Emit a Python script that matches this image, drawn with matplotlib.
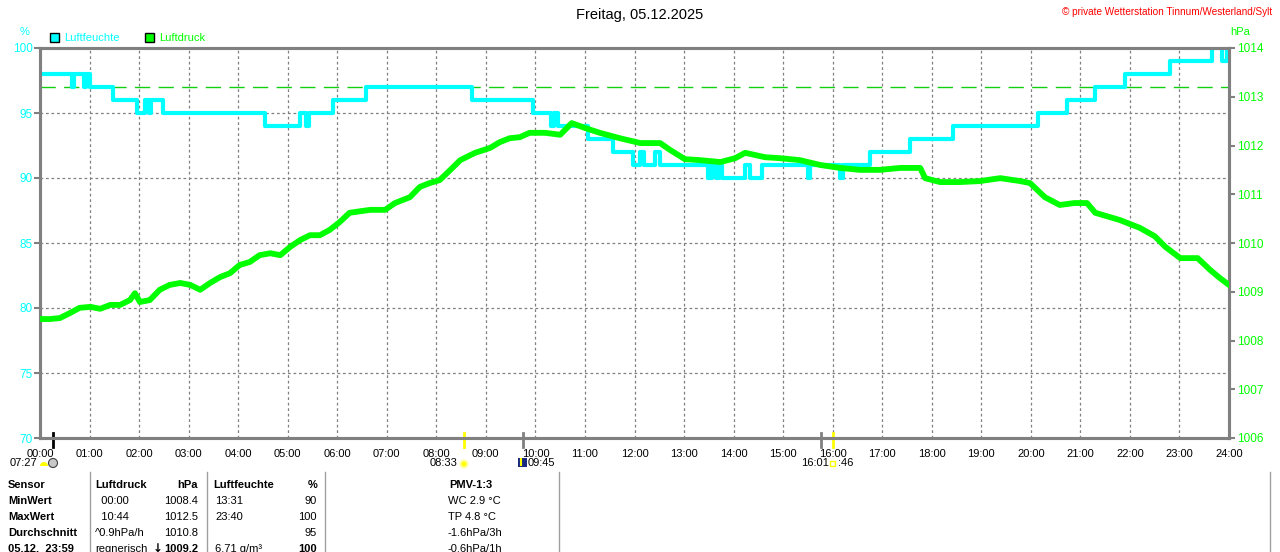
import numpy as np
import matplotlib
matplotlib.use("Agg")
import matplotlib.pyplot as plt
from matplotlib.lines import Line2D
from matplotlib.patches import Rectangle, Circle, Wedge
from matplotlib.transforms import IdentityTransform

plt.rcParams['font.family'] = ['Liberation Sans', 'DejaVu Sans']

"""Daten"""
# Luftfeuchte in %, Stufenwerte ab Uhrzeit
hum_times = ["00:00", "00:39", "00:41", "00:53", "00:56", "01:01", "01:28", "01:58", "02:07", "02:12",
             "02:14", "02:29", "04:32", "05:15", "05:22", "05:26", "05:55", "06:35", "08:43", "09:57",
             "10:19", "10:23", "10:27", "11:04", "11:34", "11:58", "12:07", "12:12", "12:25", "12:31",
             "13:29", "13:34", "13:39", "13:42", "13:46", "14:14", "14:20", "14:34", "15:30", "15:33",
             "16:09", "16:13", "16:45", "17:34", "18:26", "20:09", "20:44", "21:18", "21:54", "22:49",
             "23:40", "23:52", "23:58", "24:00"]
hum_vals = [98, 97, 98, 97, 98, 97, 96, 95, 96, 95,
            96, 95, 94, 95, 94, 95, 96, 97, 96, 95,
            94, 95, 94, 93, 92, 91, 92, 91, 92, 91,
            90, 91, 90, 91, 90, 91, 90, 91, 90, 91,
            90, 91, 92, 93, 94, 95, 96, 97, 98, 99,
            100, 99, 100, 100]

# Luftdruck in hPa, Minuten seit 00:00
p_min = [0, 12, 24, 36, 48, 61, 73, 85, 97, 109, 115, 121, 133, 145, 157, 170, 182, 194, 206, 218,
         230, 242, 254, 266, 279, 291, 303, 315, 327, 339, 351, 363, 375, 400, 418, 430, 448, 460, 472, 484,
         497, 509, 527, 545, 557, 569, 581, 593, 612, 630, 644, 660, 678, 702, 727, 751, 763, 781, 799, 824,
         842, 854, 878, 896, 920, 945, 969, 993, 1017, 1042, 1066, 1072, 1090, 1114, 1138, 1163, 1187, 1199, 1217, 1235,
         1253, 1268, 1278, 1296, 1308, 1332, 1350, 1363, 1381, 1402, 1417, 1429, 1440]
p_vals = [1008.44, 1008.44, 1008.46, 1008.56, 1008.67, 1008.69, 1008.65, 1008.73, 1008.73, 1008.83,
          1008.97, 1008.79, 1008.83, 1009.04, 1009.14, 1009.18, 1009.14, 1009.04, 1009.18, 1009.30,
          1009.38, 1009.55, 1009.61, 1009.75, 1009.79, 1009.75, 1009.92, 1010.06, 1010.16, 1010.16,
          1010.27, 1010.43, 1010.62, 1010.68, 1010.68, 1010.82, 1010.94, 1011.15, 1011.23, 1011.29,
          1011.50, 1011.70, 1011.85, 1011.95, 1012.07, 1012.15, 1012.17, 1012.26, 1012.26, 1012.22,
          1012.46, 1012.36, 1012.26, 1012.15, 1012.05, 1012.05, 1011.91, 1011.72, 1011.70, 1011.66,
          1011.74, 1011.85, 1011.76, 1011.74, 1011.70, 1011.60, 1011.54, 1011.50, 1011.50, 1011.54,
          1011.54, 1011.33, 1011.25, 1011.25, 1011.27, 1011.33, 1011.27, 1011.23, 1010.94, 1010.78,
          1010.82, 1010.82, 1010.62, 1010.53, 1010.47, 1010.31, 1010.14, 1009.92, 1009.69, 1009.69,
          1009.45, 1009.28, 1009.14]

hum_ticks = [70, 75, 80, 85, 90, 95, 100]
p_ticks = [1006, 1007, 1008, 1009, 1010, 1011, 1012, 1013, 1014]
hour_labels = ["%02d:00" % h for h in range(25)]

# Sonne/Mond Ereignisse unter der Achse
event_times = ["00:16", "08:33", "09:45", "15:46", "16:01"]
event_colors = ["black", "#ffff00", "#808080", "#808080", "#ffff00"]

table_head = ["Sensor", "Luftdruck", "hPa", "Luftfeuchte", "%", "PMV-1:3"]
row_names = ["MinWert", "MaxWert", "Durchschnitt", "05.12.  23:59"]
p_time_col = ["  00:00", "  10:44", "^0.9hPa/h", "regnerisch"]
p_val_col = ["1008.4", "1012.5", "1010.8", "1009.2"]
h_time_col = ["13:31", "23:40", "", "6.71 g/m\u00b3"]
h_val_col = ["90", "100", "95", "100"]
pmv_col = ["WC 2.9 \u00b0C", "TP 4.8 \u00b0C", "-1.6hPa/3h", "-0.6hPa/1h"]

CYAN = "#00ffff"
GREEN = "#00ff00"
GRAY = "#808080"


def hrs(s):
    h, m = s.split(":")
    return int(h) + int(m) / 60.0


def fx(x):
    return x / 1280.0


def fy(y):
    return 1 - y / 552.0


fig = plt.figure(figsize=(12.8, 5.52), dpi=100)
fig.patch.set_facecolor("white")
ax = fig.add_axes([fx(40), fy(438), 1189 / 1280.0, 390 / 552.0])
ax.set_xlim(0, 24)
ax.set_ylim(70, 100)
ax.set_xticks(range(25))
ax.set_xticklabels(hour_labels)
ax.set_yticks(hum_ticks)
ax.set_yticklabels([str(v) for v in hum_ticks])
ax.grid(True, color=GRAY, linestyle=(0, (2.2, 2.2)), linewidth=0.9)
ax.axhline(97, color="#10d010", linewidth=1.0, dashes=(11, 6), zorder=2)

ax.step([hrs(t) for t in hum_times], hum_vals, where="post", color=CYAN, linewidth=3, zorder=3)

ax2 = ax.twinx()
ax2.set_ylim(1006, 1014)
ax2.set_yticks(p_ticks)
ax2.set_yticklabels([str(v) for v in p_ticks])
ax2.plot(np.array(p_min) / 60.0, p_vals, color=GREEN, linewidth=4.2, zorder=4)

for a in (ax, ax2):
    for s in a.spines.values():
        s.set_color(GRAY)
        s.set_linewidth(2.2)
ax.tick_params(axis="y", colors=GRAY, labelcolor=CYAN, labelsize=8.5, length=4, width=1.5, pad=1)
ax.tick_params(axis="x", length=0, labelsize=8, labelcolor="black", pad=8)
ax2.tick_params(axis="y", colors=GRAY, labelcolor=GREEN, labelsize=8.5, length=4, width=1.5, pad=2)

# Ereignis-Striche unter der Zeitachse
for t, c in zip(event_times, event_colors):
    ax.plot([hrs(t), hrs(t)], [0.013, -0.023], color=c, linewidth=2,
            transform=ax.get_xaxis_transform(), clip_on=False, zorder=6)

# Titel und Beschriftungen
fig.text(0.5, fy(15), "Freitag, 05.12.2025", ha="center", va="center", fontsize=10.5)
fig.text(fx(1272), fy(12), "\u00a9 private Wetterstation Tinnum/Westerland/Sylt", ha="right", va="center",
         fontsize=7.2, color="red")
fig.text(fx(25), fy(32), "%", ha="center", va="center", fontsize=8, color=CYAN)
fig.text(fx(1240), fy(32), "hPa", ha="center", va="center", fontsize=8, color=GREEN)

idt = IdentityTransform()
fig.add_artist(Rectangle((50, 552 - 42), 9, 9, facecolor=CYAN, edgecolor="black", linewidth=1, transform=idt))
fig.text(fx(64), fy(38), "Luftfeuchte", ha="left", va="center", fontsize=8, color=CYAN)
fig.add_artist(Rectangle((145, 552 - 42), 9, 9, facecolor=GREEN, edgecolor="black", linewidth=1, transform=idt))
fig.text(fx(159), fy(38), "Luftdruck", ha="left", va="center", fontsize=8, color=GREEN)

# Sonne/Mond Zeiten
fig.text(fx(10), fy(463), "07:27", ha="left", va="center", fontsize=8)
fig.add_artist(Wedge((44, 552 - 466), 4, 0, 180, facecolor="#ffff00", edgecolor="none", transform=idt))
fig.add_artist(Circle((53, 552 - 463), 4.5, facecolor="#c8c8c8", edgecolor="#404040", linewidth=0.8, transform=idt))
fig.text(fx(430), fy(463), "08:33", ha="left", va="center", fontsize=8)
fig.add_artist(Circle((464, 552 - 464), 3.5, facecolor="#ffff00", edgecolor="#ffffa0", linewidth=1.5, transform=idt))
fig.add_artist(Rectangle((518, 552 - 467), 9, 9, facecolor="#1a2a80", edgecolor="none", transform=idt))
fig.add_artist(Line2D([521, 521], [552 - 459, 552 - 465], color="#ffff00", linewidth=1.5, transform=idt))
fig.text(fx(528), fy(463), "09:45", ha="left", va="center", fontsize=8)
fig.text(fx(801), fy(463), "16:01", ha="left", va="center", fontsize=8)
fig.add_artist(Rectangle((830, 552 - 466), 5, 5, facecolor="none", edgecolor="#ffff00", linewidth=1, transform=idt))
fig.text(fx(838), fy(463), ":46", ha="left", va="center", fontsize=8)

# Tabelle
for x in [90, 207, 325, 559, 1270]:
    fig.add_artist(Line2D([x, x], [552 - 472, 0], color="#a0a0a0", linewidth=1, transform=idt))

fig.text(fx(8), fy(485), table_head[0], ha="left", va="center", fontsize=8, weight="bold")
fig.text(fx(95), fy(485), table_head[1], ha="left", va="center", fontsize=8, weight="bold")
fig.text(fx(198), fy(485), table_head[2], ha="right", va="center", fontsize=8, weight="bold")
fig.text(fx(213), fy(485), table_head[3], ha="left", va="center", fontsize=8, weight="bold")
fig.text(fx(317), fy(485), table_head[4], ha="right", va="center", fontsize=8, weight="bold")
fig.text(fx(471), fy(485), table_head[5], ha="center", va="center", fontsize=8, weight="bold")

for i in range(len(row_names)):
    y = fy(501 + 16 * i)
    last = (i == len(row_names) - 1)
    fig.text(fx(8), y, row_names[i], ha="left", va="center", fontsize=8, weight="bold")
    fig.text(fx(95), y, p_time_col[i], ha="left", va="center", fontsize=8)
    fig.text(fx(198), y, p_val_col[i], ha="right", va="center", fontsize=8,
             weight="bold" if last else "normal")
    fig.text(fx(215), y, h_time_col[i], ha="left", va="center", fontsize=8)
    fig.text(fx(317), y, h_val_col[i], ha="right", va="center", fontsize=8,
             weight="bold" if last else "normal")
    fig.text(fx(448), y, pmv_col[i], ha="left", va="center", fontsize=8)
    if last:
        # Tendenzpfeil vor dem aktuellen Luftdruck
        fig.text(fx(163), y, "\u2193", ha="right", va="center", fontsize=8.5, weight="bold",
                 family=["DejaVu Sans"])

fig.savefig("out.png", dpi=100)
